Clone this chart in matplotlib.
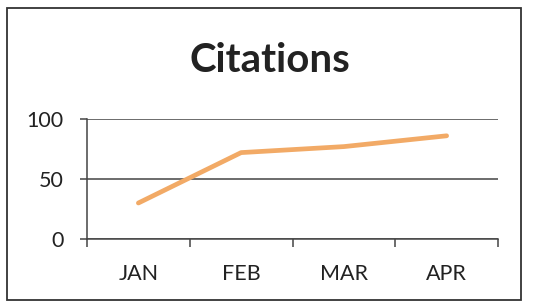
import matplotlib
matplotlib.use("Agg")
from matplotlib import pyplot as plt
from matplotlib.patches import Rectangle
from matplotlib.ticker import FixedLocator

months = ["JAN", "FEB", "MAR", "APR"]
citations = [30, 72, 77, 86]
yticks = [0, 50, 100]

plt.rcParams['font.family'] = ['Lato', 'DejaVu Sans']

fig = plt.figure(figsize=(5.35, 3.05), dpi=100)
fig.patch.set_facecolor('white')

# outer chart border
fig.patches.append(Rectangle((7/535, 5/305), 514/535, 292/305, transform=fig.transFigure,
                             fill=False, edgecolor='#333333', linewidth=1.3))

ax = fig.add_axes([87/535, 66/305, 411/535, 120/305])
x = list(range(len(months)))
ax.plot(x, citations, color='#F2AA66', linewidth=3.4, solid_capstyle='round', zorder=3)

ax.set_xlim(-0.5, len(months) - 0.5)
ax.set_ylim(0, 100)
ax.set_yticks(yticks)
ax.yaxis.grid(True, color='#444444', linewidth=1.1)
ax.set_axisbelow(True)

ax.set_xticks(x)
ax.set_xticklabels(months)
ax.xaxis.set_minor_locator(FixedLocator([i - 0.5 for i in range(len(months) + 1)]))
ax.tick_params(axis='x', which='major', length=0, pad=18, labelsize=15.5, labelcolor='#222222')
ax.tick_params(axis='x', which='minor', length=6, width=1.1, color='#444444', direction='out')
ax.tick_params(axis='y', length=5, width=1.1, color='#444444', pad=12, labelsize=15.5, labelcolor='#222222')

for s in ['top', 'right']:
    ax.spines[s].set_visible(False)
for s in ['left', 'bottom']:
    ax.spines[s].set_color('#444444')
    ax.spines[s].set_linewidth(1.1)

fig.text(270/535, 1 - 61/305, "Citations", ha='center', va='center',
         fontsize=29, fontweight='bold', color='#222222')

fig.savefig("out.png", dpi=100)
